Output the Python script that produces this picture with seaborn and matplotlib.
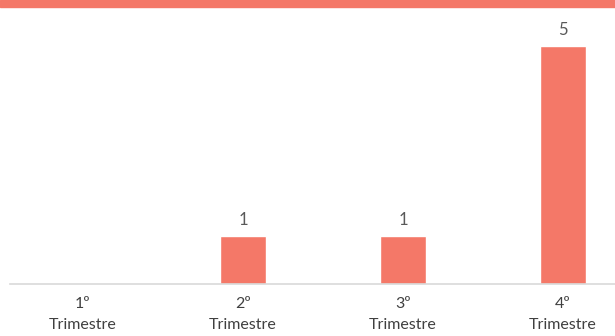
import matplotlib
matplotlib.use("Agg")
import matplotlib.pyplot as plt
import seaborn as sns
import pandas as pd
from matplotlib.patches import Rectangle

categories = ["1º\nTrimestre", "2º\nTrimestre", "3º\nTrimestre", "4º\nTrimestre"]
values = [0, 1, 1, 5]

sns.set_theme(style="white")
plt.rcParams['font.family'] = ['Lato', 'DejaVu Sans']

color = "#F47868"
fig = plt.figure(figsize=(6.15, 3.36), dpi=100)
W, H = 615, 336
ax = fig.add_axes([10 / W, (H - 284) / H, 605 / W, (284 - 7) / H])

df = pd.DataFrame({"cat": categories, "val": values})
sns.barplot(data=df, x="cat", y="val", color=color, width=0.29, ax=ax, saturation=1)

ax.set_xlim(-0.456, 3.325)
ax.set_ylim(0, (284 - 7) / 47.6)
for s in ["top", "right", "left"]:
    ax.spines[s].set_visible(False)
ax.spines["bottom"].set_color("#D9D9D9")
ax.spines["bottom"].set_linewidth(1.2)
ax.set_yticks([])
ax.set_xlabel("")
ax.set_ylabel("")
ax.tick_params(axis="x", length=0, pad=9, labelsize=11.5, labelcolor="#404040")
for lbl in ax.get_xticklabels():
    lbl.set_linespacing(1.65)

for i, v in enumerate(values):
    if v > 0:
        ax.annotate(str(v), (i, v), xytext=(0, 6), textcoords="offset points",
                    ha="center", va="bottom", fontsize=12, color="#595959")

fig.patches.append(Rectangle((0, (H - 7) / H), 1, 7 / H, transform=fig.transFigure,
                             color=color, zorder=10))

fig.savefig("out.png", dpi=100)
